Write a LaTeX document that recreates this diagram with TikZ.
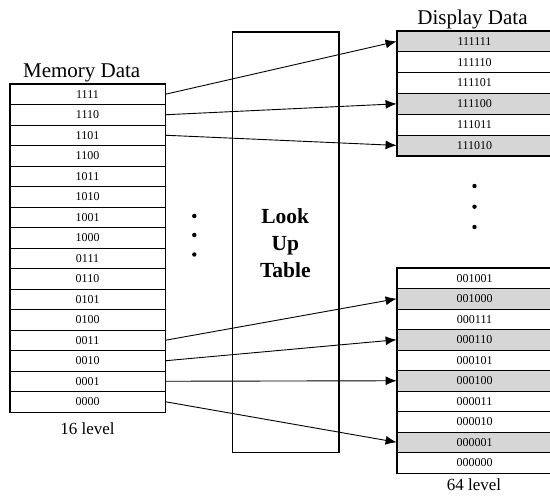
\documentclass[tikz,border=0pt]{standalone}
\usepackage{fontspec}
\setmainfont{Liberation Serif}
\usetikzlibrary{arrows.meta}
\begin{document}
\begin{tikzpicture}[x=1pt,y=-1pt,
  cell/.style={draw, line width=0.8pt, minimum width=155pt, minimum height=#1,
    inner sep=0pt, font=\fontsize{12}{14}\selectfont},
  frame/.style={line width=1.3pt},
  caption/.style={anchor=base, inner sep=0pt, font=\fontsize{21}{25}\selectfont},
  levelnote/.style={anchor=base, inner sep=0pt, font=\fontsize{17}{20}\selectfont},
  luttext/.style={anchor=base, inner sep=0pt, font=\fontsize{21.5}{25}\selectfont\bfseries},
  dot/.style={circle, fill=black, inner sep=0pt, minimum size=4.4pt},
  arr/.style={line width=0.9pt, -{Latex[length=11pt,width=9pt]}}
]
\useasboundingbox (0,0) rectangle (550,499);
\clip (0,0) rectangle (550,499);

% memory table (16 levels)
\node[caption] (memcap) at (81.7,77) {Memory Data};
\foreach \v [count=\i from 0] in {1111,1110,1101,1100,1011,1010,1001,1000,0111,0110,0101,0100,0011,0010,0001,0000}
  \node[cell=20.5pt] (m\v) at (87.5,{84+20.5*(\i+0.5)}) {\v};
\draw[frame] (m1111.north west) rectangle (m0000.south east);
\node[levelnote] (memlvl) at (87.5,434) {16 level};

% look-up table
\node[draw, line width=1.3pt, minimum width=106.5pt, minimum height=420.7pt, inner sep=0pt] (lut) at (285.8,242.3) {};
\node[luttext] (lut1) at (285.3,223) {Look};
\node[luttext] (lut2) at (285.3,250) {Up};
\node[luttext] (lut3) at (285.3,277) {Table};

% ellipsis dots
\node[dot] (ld1) at (194.3,216) {};
\node[dot] (ld2) at (194.3,235) {};
\node[dot] (ld3) at (194.3,254.5) {};
\node[dot] (rd1) at (474.5,186) {};
\node[dot] (rd2) at (474.5,206.7) {};
\node[dot] (rd3) at (474.5,227) {};

% display table (64 levels)
\node[caption] (dispcap) at (472.5,24) {Display Data};
\foreach \v/\f [count=\i from 0] in {111111/black!16,111110/white,111101/white,111100/black!16,111011/white,111010/black!16}
  \node[cell=20.8pt, fill=\f] (d\v) at (474.5,{31+20.8*(\i+0.5)}) {\v};
\draw[frame] (d111111.north west) rectangle (d111010.south east);
\foreach \v/\f [count=\i from 0] in {001001/white,001000/black!16,000111/white,000110/black!16,000101/white,000100/black!16,000011/white,000010/white,000001/black!16,000000/white}
  \node[cell=20.5pt, fill=\f] (d\v) at (474.5,{268+20.5*(\i+0.5)}) {\v};
\draw[frame] (d001001.north west) rectangle (d000000.south east);
\node[levelnote] (displvl) at (474,490) {64 level};

% mappings
\draw[arr] (m1111.east) -- (d111111.west);
\draw[arr] (m1110.east) -- (d111100.west);
\draw[arr] (m1101.east) -- (d111010.west);
\draw[arr] (m0011.east) -- (d001000.west);
\draw[arr] (m0010.east) -- (d000110.west);
\draw[arr] (m0001.east) -- (d000100.west);
\draw[arr] (m0000.east) -- (d000001.west);
\end{tikzpicture}
\end{document}
